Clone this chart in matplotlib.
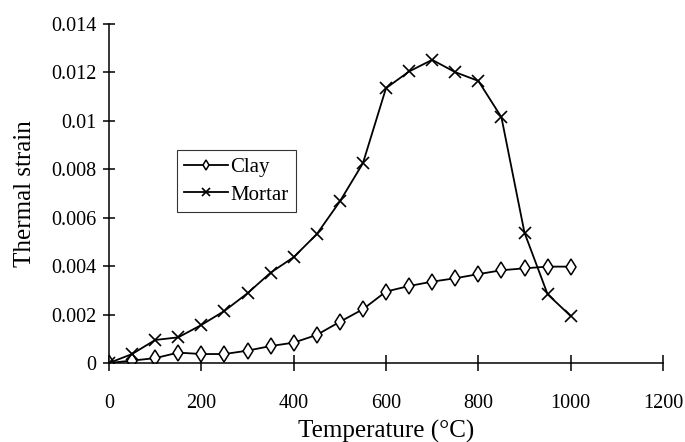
import matplotlib
matplotlib.use("Agg")
import matplotlib.pyplot as plt

plt.rcParams['font.family'] = ['Liberation Serif', 'DejaVu Serif']

# temperatures (deg C)
temps = [0, 50, 100, 150, 200, 250, 300, 350, 400, 450, 500,
         550, 600, 650, 700, 750, 800, 850, 900, 950, 1000]

# thermal strain
clay = [0.0, 0.0001, 0.0002, 0.00043, 0.00037, 0.00037, 0.00051, 0.0007,
        0.00084, 0.00116, 0.0017, 0.00222, 0.00295, 0.00318, 0.00336,
        0.0035, 0.00367, 0.00383, 0.00391, 0.00398, 0.00398]
mortar = [0.0, 0.00037, 0.00095, 0.00106, 0.00157, 0.00215, 0.00288, 0.00373,
          0.00437, 0.00532, 0.00667, 0.00825, 0.01135, 0.01204, 0.01252,
          0.01201, 0.01165, 0.01015, 0.00538, 0.00284, 0.00194]

xticks = [0, 200, 400, 600, 800, 1000, 1200]
yticks = [0, 0.002, 0.004, 0.006, 0.008, 0.01, 0.012, 0.014]
ytick_labels = ["0", "0.002", "0.004", "0.006", "0.008", "0.01", "0.012", "0.014"]

fig = plt.figure(figsize=(6.85, 4.42), dpi=100)
ax = fig.add_axes([109 / 685, 1 - 363 / 442, 554 / 685, 339 / 442])

ax.plot(temps, clay, color='black', lw=1.3, marker='d', markersize=8,
        markerfacecolor='white', markeredgecolor='black', markeredgewidth=1.1,
        label='Clay')
ax.plot(temps, mortar, color='black', lw=1.3, marker='x', markersize=9,
        markeredgewidth=1.2, label='Mortar')

ax.set_xlim(0, 1200)
ax.set_ylim(0, 0.014)
ax.set_xticks(xticks)
ax.set_yticks(yticks)
ax.set_yticklabels(ytick_labels)

for side in ['top', 'right']:
    ax.spines[side].set_visible(False)
for side in ['left', 'bottom']:
    ax.spines[side].set_linewidth(1.1)

ax.tick_params(axis='x', direction='inout', length=11, width=1.1,
               labelsize=14.5, pad=17)
ax.tick_params(axis='y', direction='inout', length=8, width=1.1,
               labelsize=14.5, pad=5)

ax.set_xlabel('Temperature (°C)', fontsize=18, labelpad=5)
ax.set_ylabel('Thermal strain', fontsize=18, labelpad=11)

leg = ax.legend(loc='upper left', bbox_to_anchor=(68 / 554, (363 - 150) / 339),
                fontsize=15, frameon=True, fancybox=False, edgecolor='black',
                handlelength=2.1, handletextpad=0.1, borderpad=0.35,
                labelspacing=0.4, borderaxespad=0, markerscale=0.7)
leg.get_frame().set_linewidth(0.8)

fig.savefig('out.png', dpi=100)
